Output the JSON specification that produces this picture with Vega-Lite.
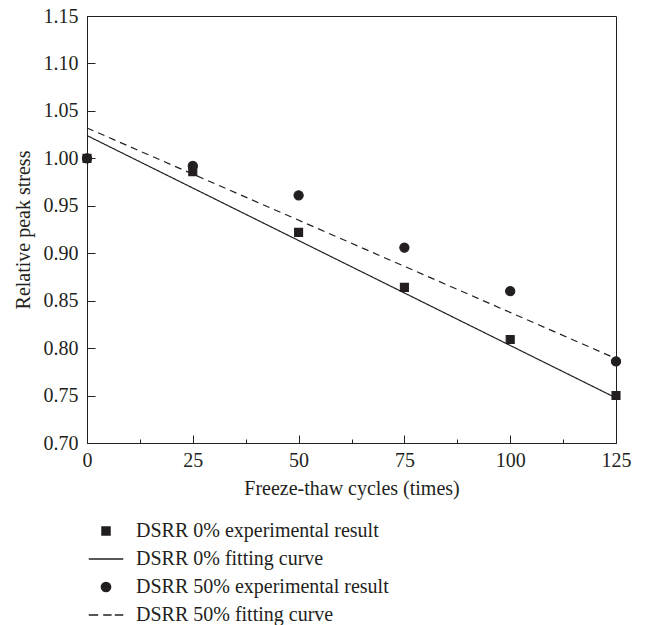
{
  "$schema": "https://vega.github.io/schema/vega-lite/v6.json",
  "autosize": {"type": "none"},
  "width": 529,
  "height": 427,
  "padding": {"left": 87, "top": 16, "right": 29, "bottom": 182},
  "background": "white",
  "config": {
    "font": "Liberation Serif",
    "view": {"stroke": "#231f20", "strokeWidth": 1},
    "axis": {
      "labelFont": "Liberation Serif",
      "titleFont": "Liberation Serif",
      "labelFontSize": 20,
      "titleFontSize": 20,
      "titleFontWeight": "normal",
      "labelColor": "#231f20",
      "titleColor": "#231f20",
      "domainColor": "#231f20",
      "tickColor": "#231f20",
      "grid": false
    },
    "legend": {
      "labelFont": "Liberation Serif",
      "labelFontSize": 20,
      "labelColor": "#231f20"
    }
  },
  "datasets": {
    "pts": [
      {"cycles": 0, "stress": 1.0, "item": "DSRR 0% experimental result"},
      {"cycles": 25, "stress": 0.986, "item": "DSRR 0% experimental result"},
      {"cycles": 50, "stress": 0.922, "item": "DSRR 0% experimental result"},
      {"cycles": 75, "stress": 0.864, "item": "DSRR 0% experimental result"},
      {"cycles": 100, "stress": 0.809, "item": "DSRR 0% experimental result"},
      {"cycles": 125, "stress": 0.750, "item": "DSRR 0% experimental result"},
      {"cycles": 0, "stress": 1.0, "item": "DSRR 50% experimental result"},
      {"cycles": 25, "stress": 0.992, "item": "DSRR 50% experimental result"},
      {"cycles": 50, "stress": 0.961, "item": "DSRR 50% experimental result"},
      {"cycles": 75, "stress": 0.906, "item": "DSRR 50% experimental result"},
      {"cycles": 100, "stress": 0.860, "item": "DSRR 50% experimental result"},
      {"cycles": 125, "stress": 0.786, "item": "DSRR 50% experimental result"}
    ],
    "fits": [
      {"cycles": 0, "stress": 1.024, "item": "DSRR 0% fitting curve"},
      {"cycles": 125, "stress": 0.7475, "item": "DSRR 0% fitting curve"},
      {"cycles": 0, "stress": 1.032, "item": "DSRR 50% fitting curve"},
      {"cycles": 125, "stress": 0.789, "item": "DSRR 50% fitting curve"}
    ]
  },
  "layer": [
    {
      "data": {"name": "fits"},
      "mark": {"type": "line", "color": "#231f20", "strokeWidth": 1.2},
      "encoding": {
        "x": {"field": "cycles", "type": "quantitative"},
        "y": {"field": "stress", "type": "quantitative"},
        "detail": {"field": "item"},
        "strokeDash": {
          "field": "item",
          "type": "nominal",
          "scale": {"domain": ["DSRR 0% fitting curve", "DSRR 50% fitting curve"], "range": [[1, 0], [7, 5]]},
          "legend": null
        }
      }
    },
    {
      "data": {"name": "pts"},
      "mark": {"type": "point", "filled": true, "fill": "#231f20", "stroke": "#231f20", "strokeWidth": 1.1, "opacity": 1, "size": 64},
      "encoding": {
        "x": {
          "field": "cycles",
          "type": "quantitative",
          "scale": {"domain": [0, 125], "nice": false, "zero": false},
          "axis": {
            "title": "Freeze-thaw cycles (times)",
            "values": [0, 12.5, 25, 37.5, 50, 62.5, 75, 87.5, 100, 112.5, 125],
            "labelExpr": "datum.value % 25 === 0 ? format(datum.value, 'd') : ''",
            "tickSize": {"condition": {"test": "datum.value % 25 === 0", "value": -8}, "value": -4},
            "labelPadding": 15,
            "titlePadding": 8,
            "labelFlush": false
          }
        },
        "y": {
          "field": "stress",
          "type": "quantitative",
          "scale": {"domain": [0.7, 1.15], "nice": false, "zero": false},
          "axis": {
            "title": "Relative peak stress",
            "values": [0.7, 0.725, 0.75, 0.775, 0.8, 0.825, 0.85, 0.875, 0.9, 0.925, 0.95, 0.975, 1.0, 1.025, 1.05, 1.075, 1.1, 1.125, 1.15],
            "labelExpr": "round(datum.value * 1000) % 50 === 0 ? format(datum.value, '.2f') : ''",
            "tickSize": {"condition": {"test": "round(datum.value * 1000) % 50 === 0", "value": -8}, "value": -4},
            "labelPadding": 17,
            "titlePadding": 10,
            "labelFlush": false
          }
        },
        "shape": {
          "field": "item",
          "type": "nominal",
          "scale": {
            "domain": ["DSRR 0% experimental result", "DSRR 0% fitting curve", "DSRR 50% experimental result", "DSRR 50% fitting curve"],
            "range": [
              "M-1,-1H1V1H-1Z",
              "M-4.3,0H4.3",
              "M-1.15,0A1.15,1.15,0,1,0,1.15,0A1.15,1.15,0,1,0,-1.15,0Z",
              "M-4.3,0H-1.95M-0.7,0H1.4M2.2,0H4.3"
            ]
          },
          "legend": {
            "title": null,
            "orient": "none",
            "legendX": 9,
            "legendY": 505,
            "symbolSize": 64,
            "labelOffset": 20,
            "rowPadding": 8,
            "labelLimit": 400,
            "encode": {
              "symbols": {
                "fill": {"value": "#231f20"},
                "stroke": {"value": "#231f20"},
                "strokeWidth": {"value": 1.2},
                "opacity": {"value": 1}
              }
            }
          }
        }
      }
    }
  ]
}
